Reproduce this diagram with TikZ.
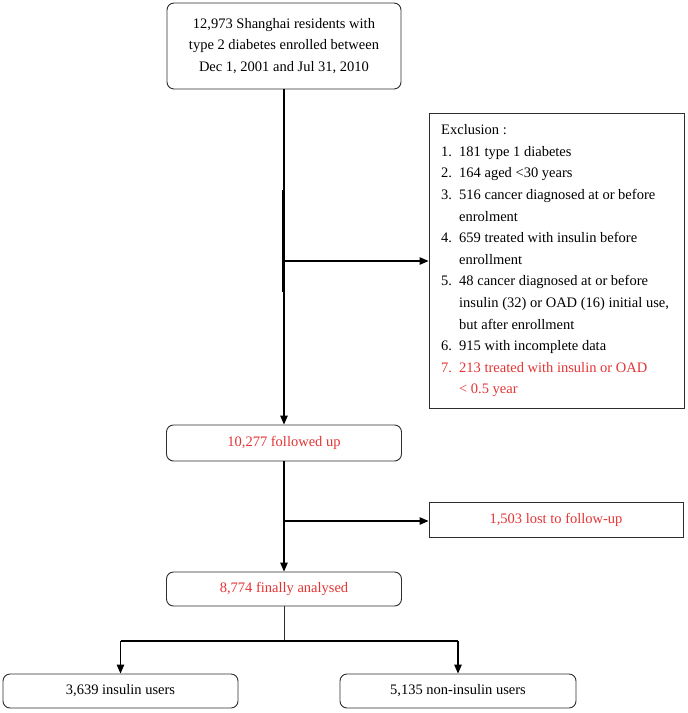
\documentclass[tikz,border=0pt]{standalone}
\usepackage{fontspec}
\setmainfont{Liberation Serif}
\usetikzlibrary{arrows.meta,calc}
\definecolor{exred}{RGB}{228,52,52}
\definecolor{boxgray}{RGB}{45,45,45}
\newcommand\myfs{\fontsize{14.5}{21.6}\selectfont}
\tikzset{
  rbox/.style={draw=boxgray, line width=0.9pt, rounded corners=7pt, inner sep=0pt, align=center, font=\myfs},
  sbox/.style={draw=boxgray, line width=0.9pt, inner sep=0pt, align=center, font=\myfs},
  arr/.style={line width=1.2pt, -{Triangle[length=9pt,width=7.5pt]}},
  ln/.style={line width=1.2pt},
}
\begin{document}
\begin{tikzpicture}[x=1pt,y=-1pt]
\useasboundingbox (0,0) rectangle (688,713);
% boxes
\node[rbox, minimum width=234pt, minimum height=86pt] (top) at (284,46)
  {12,973 Shanghai residents with\\type 2 diabetes enrolled between\\Dec 1, 2001 and Jul 31, 2010};
\node[sbox, minimum width=255pt, minimum height=295pt] (excl) at (556.5,260.5) {};
\node[anchor=north west, inner sep=0pt, font=\myfs, align=left] (excltext) at (441,119.4)
  {\begin{tabular}{@{}p{18pt}@{}l@{}}
   \multicolumn{2}{@{}l@{}}{Exclusion :}\\
   1. & 181 type 1 diabetes\\
   2. & 164 aged <30 years\\
   3. & 516 cancer diagnosed at or before\\
      & enrolment\\
   4. & 659 treated with insulin before\\
      & enrollment\\
   5. & 48 cancer diagnosed at or before\\
      & insulin (32) or OAD (16) initial use,\\
      & but after enrollment\\
   6. & 915 with incomplete data\\
   \textcolor{exred}{7.} & \textcolor{exred}{213 treated with insulin or OAD}\\
      & \textcolor{exred}{< 0.5 year}
   \end{tabular}};
\node[rbox, minimum width=235pt, minimum height=36pt, text=exred] (fu) at (284,443) {10,277 followed up};
\node[sbox, minimum width=254pt, minimum height=35pt, text=exred] (lost) at (556,519.5) {1,503 lost to follow-up};
\node[rbox, minimum width=235pt, minimum height=34pt, text=exred] (fa) at (284,589) {8,774 finally analysed};
\node[rbox, minimum width=235pt, minimum height=34pt] (ins) at (120.5,691) {3,639 insulin users};
\node[rbox, minimum width=236pt, minimum height=34pt] (non) at (458,691) {5,135 non-insulin users};
% connectors
\coordinate (j1) at (284,261);
\coordinate (t1) at (282.5,190);
\coordinate (t2) at (282.5,292);
\draw[arr] (top.south) -- (fu.north);
\draw[line width=1.6pt] (t1) -- (t2);
\draw[arr] (j1) -- (j1 -| excl.west);
\coordinate (j2) at (284,521);
\draw[arr] (fu.south) -- (fa.north);
\draw[arr] (j2) -- (j2 -| lost.west);
\coordinate (j3) at (284,641);
\draw[line width=0.8pt, draw=boxgray] (fa.south) -- (j3);
\draw[ln] (ins.north |- j3) -- (non.north |- j3);
\draw[arr] (ins.north |- j3) -- (ins.north);
\draw[arr] (non.north |- j3) -- (non.north);
\end{tikzpicture}
\end{document}
